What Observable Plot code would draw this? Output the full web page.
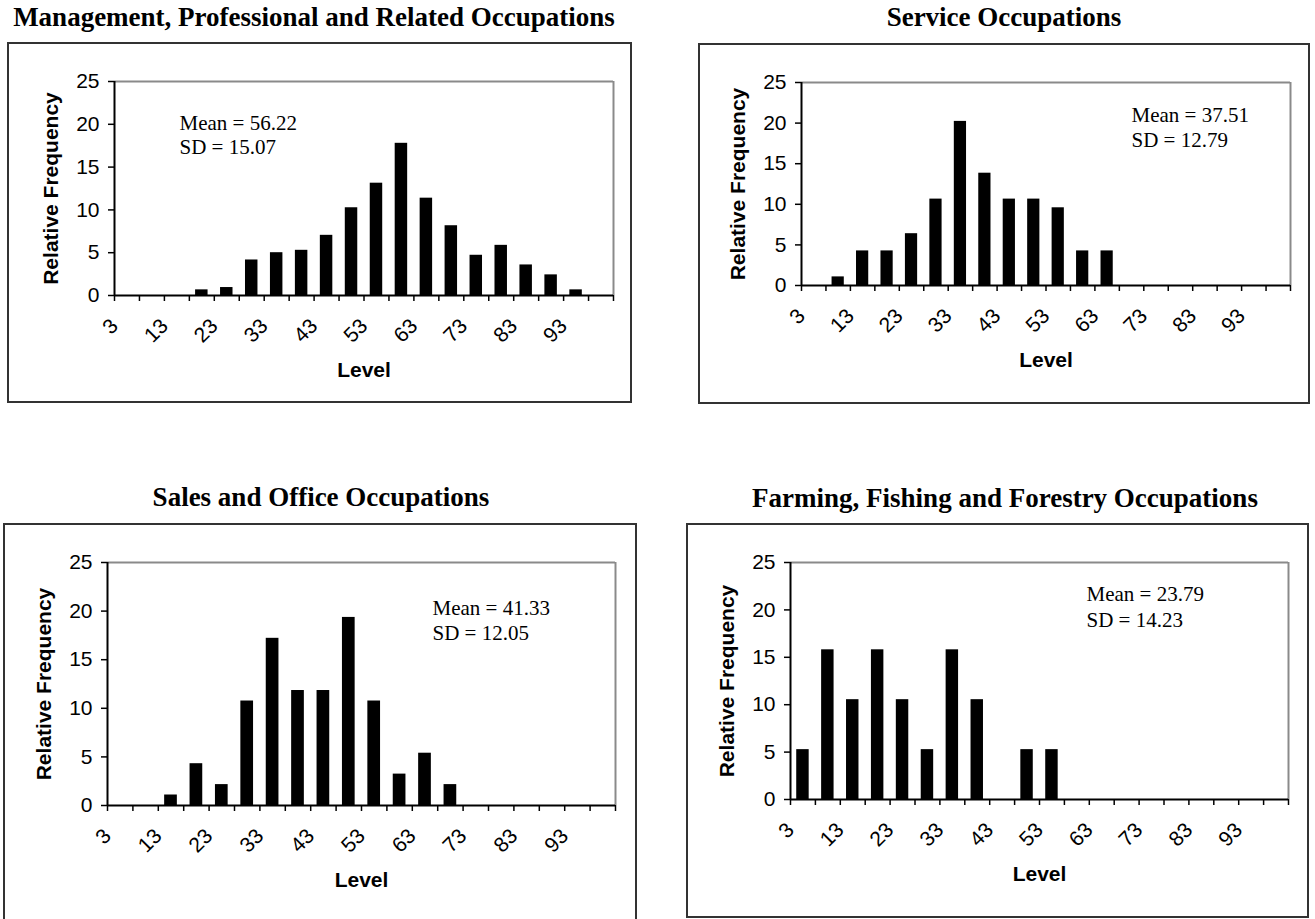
<!DOCTYPE html>
<html><head><meta charset="utf-8">
<script src="https://cdn.jsdelivr.net/npm/d3@7"></script>
<script src="https://cdn.jsdelivr.net/npm/@observablehq/plot@0.6"></script>
<style>
html,body{margin:0;padding:0;background:#fff;}
#page{position:relative;width:1315px;height:919px;overflow:hidden;background:#fff;}
.title{position:absolute;width:800px;text-align:center;font-family:"Liberation Serif","Times New Roman",serif;font-weight:bold;font-size:27px;line-height:27px;color:#000;white-space:nowrap;}
.frame{position:absolute;box-sizing:border-box;border:2px solid #333;pointer-events:none;}
.chart{position:absolute;}
.chart svg{display:block;}
</style></head><body><div id="page"></div>
<script>
// ---- data ----
const levels = [3, 8, 13, 18, 23, 28, 33, 38, 43, 48, 53, 58, 63, 68, 73, 78, 83, 88, 93, 98];
const xTickLabels = [3, 13, 23, 33, 43, 53, 63, 73, 83, 93];
const yTicks = [0, 5, 10, 15, 20, 25];
const titles = [
  "Management, Professional and Related Occupations",
  "Service Occupations",
  "Sales and Office Occupations",
  "Farming, Fishing and Forestry Occupations"
];
const means = [56.22, 37.51, 41.33, 23.79];
const sds = [15.07, 12.79, 12.05, 14.23];
const mgmtFreq    = [0, 0, 0, 0.66, 0.93, 4.15, 5.00, 5.28, 7.03, 10.25, 13.12, 17.78, 11.37, 8.15, 4.70, 5.86, 3.57, 2.41, 0.66, 0];
const serviceFreq = [0, 1.06, 4.26, 4.26, 6.38, 10.64, 20.21, 13.83, 10.64, 10.64, 9.57, 4.26, 4.26, 0, 0, 0, 0, 0, 0, 0];
const salesFreq   = [0, 0, 1.08, 4.30, 2.15, 10.75, 17.20, 11.83, 11.83, 19.35, 10.75, 3.23, 5.38, 2.15, 0, 0, 0, 0, 0, 0];
const farmFreq    = [5.26, 15.79, 10.53, 15.79, 10.53, 5.26, 15.79, 10.53, 0, 5.26, 5.26, 0, 0, 0, 0, 0, 0, 0, 0, 0];
const freqs = [mgmtFreq, serviceFreq, salesFreq, farmFreq];

// ---- layout (page pixels) ----
const layout = [
  {frame: [7, 42, 632, 403],   plot: [114, 81, 613, 295], title: [314, 18],  stats: [65, 42, 66]},
  {frame: [698, 43, 1310, 404], plot: [801, 82, 1290, 285], title: [1004, 18], stats: [330, 33, 58]},
  {frame: [3, 523, 637, 930],  plot: [107, 562, 615, 805], title: [321, 498], stats: [325, 46, 71]},
  {frame: [686, 523, 1309, 918], plot: [790, 562, 1288, 799], title: [1005, 499], stats: [296, 31.5, 57.5]}
];

const page = document.getElementById("page");
const serif = "'Liberation Serif', 'Times New Roman', serif";
const step = levels[1] - levels[0];
const xMin = levels[0], xMax = levels[levels.length - 1] + step;
const boundaries = levels.concat([xMax]);

layout.forEach((L, i) => {
  const [fl, ft, fr, fb] = L.frame;
  const [pl, pt, pr, pb] = L.plot;
  const W = fr - fl, H = fb - ft;
  const rows = levels.map((lv, k) => ({level: lv, freq: freqs[i][k]}));

  const chart = Plot.plot({
    width: W, height: H,
    marginLeft: pl - fl, marginRight: fr - pr, marginTop: pt - ft, marginBottom: fb - pb,
    x: {type: "linear", domain: [xMin, xMax]},
    y: {domain: [0, 25]},
    style: {fontFamily: "'Liberation Sans', Arial, sans-serif", fontSize: "21px", color: "#000", background: "transparent", overflow: "visible"},
    marks: [
      Plot.rectY(rows, {x1: d => d.level + step * 0.25, x2: d => d.level + step * 0.75, y1: 0, y2: "freq", fill: "#000"}),
      Plot.ruleY([25], {stroke: "#8a8a8a", strokeWidth: 2}),
      Plot.ruleX([xMax], {stroke: "#8a8a8a", strokeWidth: 2}),
      Plot.axisY(yTicks, {tickSize: 6, tickPadding: 9, label: null, fontSize: 21, strokeWidth: 1.5}),
      Plot.ruleX([xMin], {stroke: "#000", strokeWidth: 2}),
      Plot.ruleY([0], {stroke: "#000", strokeWidth: 2}),
      Plot.axisX(boundaries, {tickSize: 6, tickFormat: () => "", label: null, strokeWidth: 1.5}),
      Plot.axisX(xTickLabels, {tickSize: 0, tickRotate: -45, tickPadding: 27, dx: 0, label: null, fontSize: 21}),
      Plot.text(["Relative Frequency"], {text: d => d, frameAnchor: "left", textAnchor: "middle", lineAnchor: "middle", rotate: -90, dx: -63.5, fontWeight: "bold", fontSize: 21}),
      Plot.text(["Level"], {text: d => d, frameAnchor: "bottom", textAnchor: "middle", lineAnchor: "middle", dy: 75, fontWeight: "bold", fontSize: 21}),
      Plot.text([`Mean = ${means[i].toFixed(2)}`], {text: d => d, frameAnchor: "top-left", textAnchor: "start", lineAnchor: "middle", dx: L.stats[0], dy: L.stats[1], fontFamily: serif, fontSize: 21}),
      Plot.text([`SD = ${sds[i].toFixed(2)}`], {text: d => d, frameAnchor: "top-left", textAnchor: "start", lineAnchor: "middle", dx: L.stats[0], dy: L.stats[2], fontFamily: serif, fontSize: 21})
    ]
  });

  const wrap = document.createElement("div");
  wrap.className = "chart";
  wrap.style.left = fl + "px";
  wrap.style.top = ft + "px";
  wrap.appendChild(chart);
  page.appendChild(wrap);

  const frame = document.createElement("div");
  frame.className = "frame";
  frame.style.left = fl + "px";
  frame.style.top = ft + "px";
  frame.style.width = W + "px";
  frame.style.height = H + "px";
  page.appendChild(frame);

  const t = document.createElement("div");
  t.className = "title";
  t.textContent = titles[i];
  t.style.left = (L.title[0] - 400) + "px";
  t.style.top = (L.title[1] - 13.7) + "px";
  page.appendChild(t);
});
</script>
</body></html>
